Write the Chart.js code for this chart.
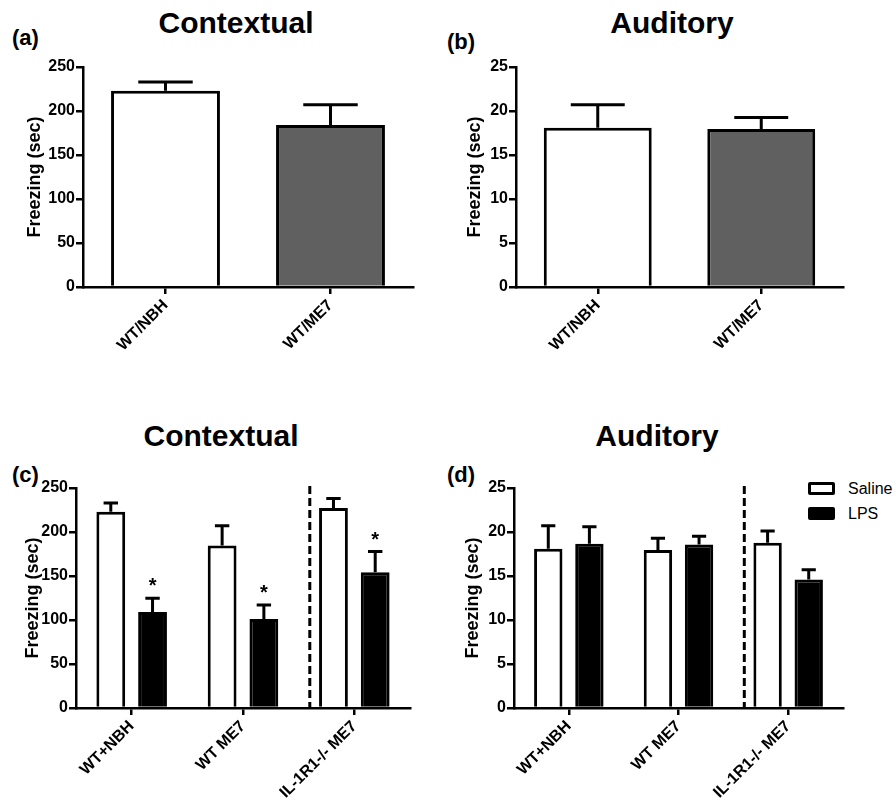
<!DOCTYPE html>
<html>
<head>
<meta charset="utf-8">
<script src="https://cdn.jsdelivr.net/npm/chart.js@4.4.1/dist/chart.umd.min.js"></script>
<style>
  body { margin: 0; background: #fff; }
  #page { position: relative; width: 896px; height: 806px; overflow: hidden; font-family: "Liberation Sans", Arial, sans-serif; }
  canvas { position: absolute; }
  .title { position: absolute; font-size: 30px; font-weight: bold; line-height: 30px; text-align: center; width: 240px; }
  .letter { position: absolute; font-size: 22px; font-weight: bold; line-height: 22px; }
  .legend { position: absolute; font-size: 16px; line-height: 16px; }
  .box { position: absolute; width: 27px; height: 13px; box-sizing: border-box; border: 3px solid #000; border-radius: 2px; }
</style>
</head>
<body>
<div id="page">
  <div class="title" style="left:116px; top:8px;">Contextual</div>
  <div class="title" style="left:552px; top:8px;">Auditory</div>
  <div class="title" style="left:101px; top:421px;">Contextual</div>
  <div class="title" style="left:537px; top:421px;">Auditory</div>
  <div class="letter" style="left:12px; top:27px;">(a)</div>
  <div class="letter" style="left:447px; top:31px;">(b)</div>
  <div class="letter" style="left:12px; top:464px;">(c)</div>
  <div class="letter" style="left:447px; top:464px;">(d)</div>
  <div class="box" style="left:808px; top:482px; background:#fff;"></div>
  <div class="box" style="left:808px; top:507px; background:#000;"></div>
  <div class="legend" style="left:848px; top:481px;">Saline</div>
  <div class="legend" style="left:848px; top:506px;">LPS</div>
  <canvas id="chartA" width="448" height="400" style="left:0; top:0;"></canvas>
  <canvas id="chartB" width="448" height="400" style="left:448px; top:0;"></canvas>
  <canvas id="chartC" width="448" height="406" style="left:0; top:400px;"></canvas>
  <canvas id="chartD" width="448" height="406" style="left:448px; top:400px;"></canvas>
</div>
<script>
// top row: WT/NBH vs WT/ME7
const topGroups = ['WT/NBH', 'WT/ME7'];
const contextTop = [223, 184];
const contextTopSem = [10, 23];
const auditoryTop = [18.1, 17.95];
const auditoryTopSem = [2.6, 1.3];

// bottom row: saline vs LPS per genotype
const bottomGroups = ['WT+NBH', 'WT ME7', 'IL-1R1-/- ME7'];
const contextSaline = [223, 184.7, 227.2];
const contextSalineSem = [10, 22.3, 10.8];
const contextLps = [109, 101, 154.4];
const contextLpsSem = [15.8, 16, 23.4];
const contextStars = ['*', '*', '*'];
const auditorySaline = [18.1, 17.95, 18.77];
const auditorySalineSem = [2.6, 1.35, 1.33];
const auditoryLps = [18.66, 18.58, 14.6];
const auditoryLpsSem = [1.94, 0.95, 1.1];

const contextTicks = [0, 50, 100, 150, 200, 250];
const auditoryTicks = [0, 5, 10, 15, 20, 25];

const FONT = '"Liberation Sans", Arial, sans-serif';

// draws the upper SEM whisker and any significance star
const errorBars = {
    id: 'errorBars',
    afterDatasetsDraw(chart) {
        const ctx = chart.ctx;
        const yScale = chart.scales.y;
        chart.data.datasets.forEach((ds, i) => {
            const meta = chart.getDatasetMeta(i);
            meta.data.forEach((bar, j) => {
                const top = yScale.getPixelForValue(ds.data[j] + ds.sem[j]);
                const half = bar.width / 4;
                ctx.save();
                ctx.strokeStyle = '#000';
                ctx.lineWidth = 3;
                ctx.beginPath();
                ctx.moveTo(bar.x, bar.y);
                ctx.lineTo(bar.x, top);
                ctx.moveTo(bar.x - half, top);
                ctx.lineTo(bar.x + half, top);
                ctx.stroke();
                if (ds.stars && ds.stars[j]) {
                    ctx.fillStyle = '#000';
                    ctx.font = 'bold 20px ' + FONT;
                    ctx.textAlign = 'center';
                    ctx.textBaseline = 'alphabetic';
                    ctx.fillText(ds.stars[j], bar.x, top - 6);
                }
                ctx.restore();
            });
        });
    }
};

// dashed separator between WT groups and knockout group
const divider = {
    id: 'divider',
    afterDraw(chart, args, opts) {
        if (opts.at == null) return;
        const x = chart.scales.x.getPixelForValue(opts.at);
        const area = chart.chartArea;
        const ctx = chart.ctx;
        ctx.save();
        ctx.strokeStyle = '#000';
        ctx.lineWidth = 3;
        ctx.setLineDash([8, 4]);
        ctx.beginPath();
        ctx.moveTo(x, area.top - 2);
        ctx.lineTo(x, area.bottom);
        ctx.stroke();
        ctx.restore();
    }
};

function makePanel(id, labels, datasets, cfg) {
    return new Chart(document.getElementById(id), {
        type: 'bar',
        data: { labels: labels, datasets: datasets },
        plugins: [errorBars, divider],
        options: {
            responsive: false,
            animation: false,
            layout: { padding: { left: 0, top: cfg.top, right: cfg.right, bottom: 0 } },
            plugins: {
                legend: { display: false },
                tooltip: { enabled: false },
                divider: { at: cfg.divider }
            },
            scales: {
                x: {
                    offset: true,
                    grid: { display: true, offset: false, drawOnChartArea: false, drawTicks: true, tickLength: 7, color: '#000', lineWidth: 2.5 },
                    border: { display: true, color: '#000', width: 2.5 },
                    ticks: {
                        autoSkip: false, minRotation: 45, maxRotation: 45, padding: 2,
                        color: '#000', font: { family: FONT, size: 16, weight: 'bold' }
                    },
                    afterFit: (scale) => { scale.height = cfg.xHeight; }
                },
                y: {
                    min: 0,
                    max: cfg.ticks[cfg.ticks.length - 1],
                    afterBuildTicks: (scale) => { scale.ticks = cfg.ticks.map(v => ({ value: v })); },
                    grid: { display: true, drawOnChartArea: false, drawTicks: true, tickLength: 7, color: '#000', lineWidth: 2.5 },
                    border: { display: true, color: '#000', width: 2.5 },
                    ticks: { padding: 1, color: '#000', font: { family: FONT, size: 16, weight: 'bold' } },
                    title: {
                        display: true, text: 'Freezing (sec)', color: '#000',
                        font: { family: FONT, size: 18, weight: 'bold' },
                        padding: { top: cfg.titlePad, bottom: 0 }
                    },
                    afterFit: (scale) => { scale.width = cfg.yWidth; }
                }
            }
        }
    });
}

function singleSet(values, sem) {
    return [{
        data: values, sem: sem,
        backgroundColor: ['#ffffff', '#606060'],
        borderColor: '#000', borderWidth: 3,
        barPercentage: 0.66, categoryPercentage: 1
    }];
}

function pairedSets(saline, salineSem, lps, lpsSem, stars) {
    return [
        { label: 'Saline', data: saline, sem: salineSem, backgroundColor: '#ffffff', borderColor: '#000', borderWidth: 3, barPercentage: 0.69, categoryPercentage: 0.75 },
        { label: 'LPS', data: lps, sem: lpsSem, stars: stars, backgroundColor: '#000000', borderColor: '#000', borderWidth: 3, barPercentage: 0.69, categoryPercentage: 0.75 }
    ];
}

makePanel('chartA', topGroups, singleSet(contextTop, contextTopSem),
    { top: 67, right: 35, xHeight: 113, yWidth: 83, titlePad: 24, ticks: contextTicks });
makePanel('chartB', topGroups, singleSet(auditoryTop, auditoryTopSem),
    { top: 67, right: 53, xHeight: 113, yWidth: 68, titlePad: 16, ticks: auditoryTicks });
makePanel('chartC', bottomGroups, pairedSets(contextSaline, contextSalineSem, contextLps, contextLpsSem, contextStars),
    { top: 88, right: 38, xHeight: 98, yWidth: 76, titlePad: 22, ticks: contextTicks, divider: 1.6 });
makePanel('chartD', bottomGroups, pairedSets(auditorySaline, auditorySalineSem, auditoryLps, auditoryLpsSem, null),
    { top: 88, right: 53, xHeight: 98, yWidth: 66, titlePad: 14, ticks: auditoryTicks, divider: 1.6 });
</script>
</body>
</html>
